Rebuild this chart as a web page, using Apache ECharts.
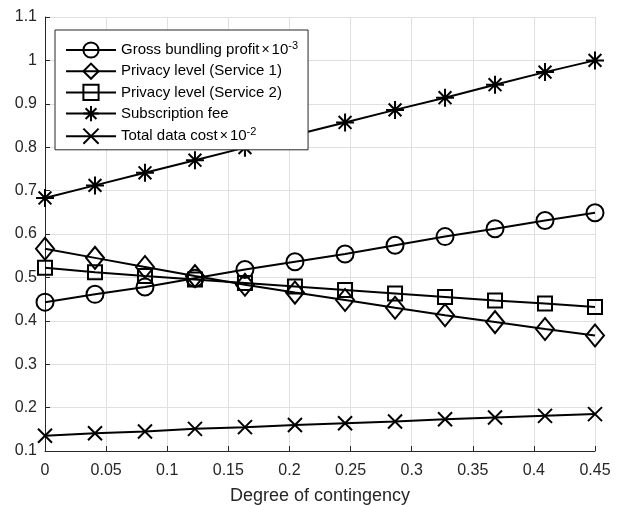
<!DOCTYPE html>
<html>
<head>
<meta charset="utf-8">
<script src="https://cdn.jsdelivr.net/npm/echarts@6/dist/echarts.min.js"></script>
<style>
  html, body { margin: 0; padding: 0; background: #fff; }
  #chart { width: 620px; height: 505px; }
</style>
</head>
<body>
<div id="chart"></div>
<script>
// Degree of contingency (x values of the sample points)
const contingency = [0, 0.0409, 0.0818, 0.1227, 0.1636, 0.2045, 0.2455, 0.2864, 0.3273, 0.3682, 0.4091, 0.45];

// Scaled outcome values
const grossProfit = [0.443, 0.461, 0.478, 0.498, 0.518, 0.536, 0.554, 0.574, 0.594, 0.612, 0.631, 0.649];
const privacy1 = [0.566, 0.545, 0.524, 0.503, 0.483, 0.465, 0.448, 0.430, 0.413, 0.397, 0.381, 0.366];
const privacy2 = [0.522, 0.512, 0.503, 0.495, 0.487, 0.479, 0.471, 0.463, 0.455, 0.447, 0.440, 0.432];
const subscriptionFee = [0.683, 0.712, 0.741, 0.770, 0.799, 0.828, 0.857, 0.886, 0.914, 0.944, 0.973, 1.0];
const dataCost = [0.135, 0.141, 0.145, 0.151, 0.155, 0.160, 0.164, 0.168, 0.173, 0.177, 0.181, 0.185];

const seriesNames = [
  'Gross bundling profit',
  'Privacy level (Service 1)',
  'Privacy level (Service 2)',
  'Subscription fee',
  'Total data cost'
];

const xTicks = { min: 0, max: 0.45, interval: 0.05 };
const yTicks = { min: 0.1, max: 1.1, interval: 0.1 };

const ASTERISK = 'path://M0,-8L0,8M-8,0L8,0M-5.7,-5.7L5.7,5.7M-5.7,5.7L5.7,-5.7';
const CROSS = 'path://M-6,-6L6,6M-6,6L6,-6';

const AXIS_COLOR = '#262626';
const FONT = 'Liberation Sans, Arial, Helvetica, sans-serif';

function pairs(ys) {
  return ys.map((y, i) => [contingency[i], y]);
}

function lineSeries(name, ys, symbol, size) {
  return {
    name: name,
    type: 'line',
    data: pairs(ys),
    symbol: symbol,
    symbolSize: size,
    showAllSymbol: true,
    lineStyle: { color: '#000', width: 2 },
    itemStyle: { color: 'rgba(0,0,0,0)', borderColor: '#000', borderWidth: 2 },
    emphasis: { disabled: true },
    animation: false
  };
}

const legendLabels = {
  'Gross bundling profit': 'Gross bundling profit{x|×}10{sup|-3}',
  'Total data cost': 'Total data cost{x|×}10{sup|-2}'
};

const chart = echarts.init(document.getElementById('chart'), null, { renderer: 'canvas' });

chart.setOption({
  animation: false,
  backgroundColor: '#fff',
  grid: { left: 45, right: 25, top: 17, bottom: 54, containLabel: false, outerBoundsMode: 'none' },
  legend: {
    orient: 'vertical',
    left: 55,
    top: 30,
    padding: [10, 10, 5, 10],
    itemWidth: 50,
    itemHeight: 19,
    itemGap: 4,
    backgroundColor: '#fff',
    borderColor: AXIS_COLOR,
    borderWidth: 1,
    data: seriesNames,
    formatter: name => legendLabels[name] || name,
    textStyle: {
      fontFamily: FONT,
      fontSize: 15,
      color: '#000',
      rich: {
        x: { fontFamily: FONT, fontSize: 14, color: '#000', padding: [0, 2, 0, 2] },
        sup: { fontFamily: FONT, fontSize: 11, color: '#000', padding: [0, 0, 9, 0] }
      }
    }
  },
  xAxis: {
    type: 'value',
    min: xTicks.min,
    max: xTicks.max,
    interval: xTicks.interval,
    name: 'Degree of contingency',
    nameLocation: 'middle',
    nameGap: 36,
    nameTextStyle: { fontFamily: FONT, fontSize: 18, color: AXIS_COLOR },
    axisLine: { show: true, onZero: false, lineStyle: { color: AXIS_COLOR, width: 1 } },
    axisTick: { show: true, inside: true, length: 5, lineStyle: { color: AXIS_COLOR } },
    axisLabel: { fontFamily: FONT, fontSize: 16, color: AXIS_COLOR, margin: 12 },
    splitLine: { show: true, lineStyle: { color: '#e0e0e0', width: 1 } }
  },
  yAxis: {
    type: 'value',
    min: yTicks.min,
    max: yTicks.max,
    interval: yTicks.interval,
    axisLine: { show: true, onZero: false, lineStyle: { color: AXIS_COLOR, width: 1 } },
    axisTick: { show: true, inside: true, length: 5, lineStyle: { color: AXIS_COLOR } },
    axisLabel: { fontFamily: FONT, fontSize: 16, color: AXIS_COLOR, margin: 8 },
    splitLine: { show: true, lineStyle: { color: '#e0e0e0', width: 1 } }
  },
  series: [
    lineSeries(seriesNames[0], grossProfit, 'circle', 17),
    lineSeries(seriesNames[1], privacy1, 'diamond', [18, 22]),
    lineSeries(seriesNames[2], privacy2, 'rect', 14),
    lineSeries(seriesNames[3], subscriptionFee, ASTERISK, 18),
    lineSeries(seriesNames[4], dataCost, CROSS, 14)
  ]
});
</script>
</body>
</html>
